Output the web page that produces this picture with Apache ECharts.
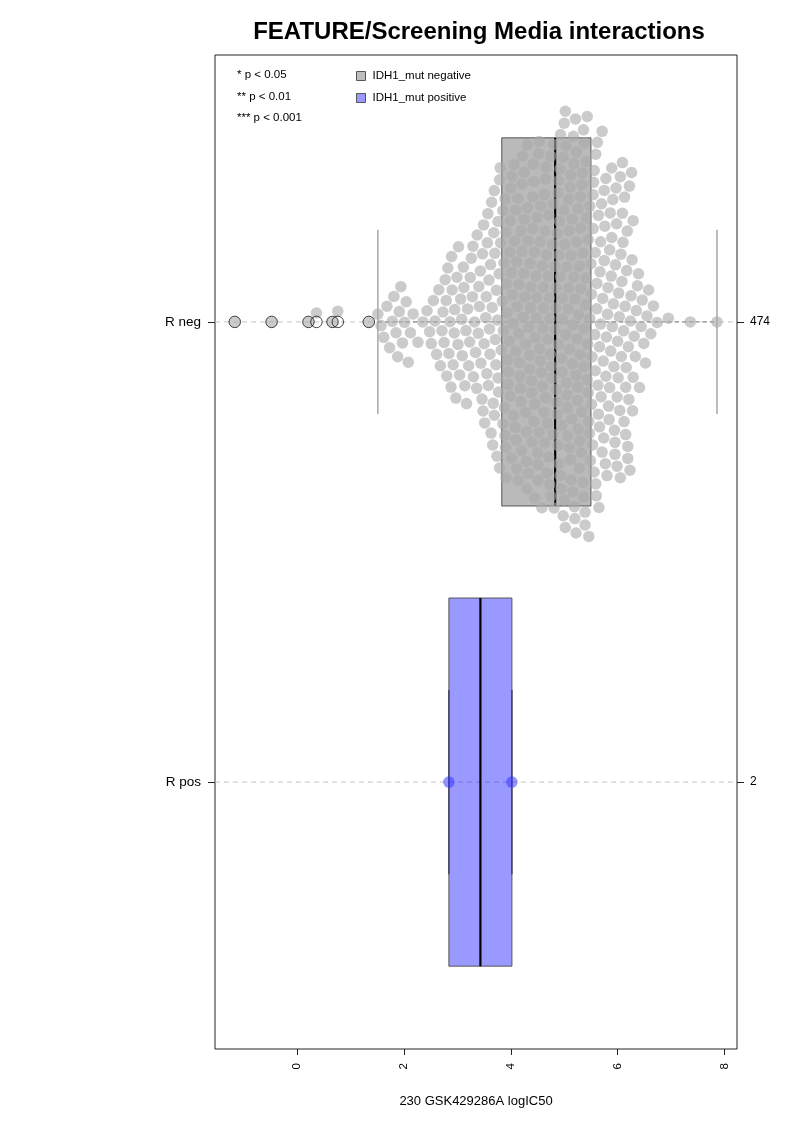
<!DOCTYPE html>
<html>
<head>
<meta charset="utf-8">
<script src="https://cdn.jsdelivr.net/npm/echarts@6/dist/echarts.min.js"></script>
<style>html,body{margin:0;padding:0;background:#fff}#c{width:793px;height:1122px}</style>
</head>
<body>
<div id="c"></div>
<script>
const groupNames = ['R neg', 'R pos'];
const legendNames = ['IDH1_mut negative', 'IDH1_mut positive'];
const pLegend = ['* p < 0.05', '** p < 0.01', '*** p < 0.001'];
const xTicks = [0, 2, 4, 6, 8];
// boxplot stats: [min whisker, Q1, median, Q3, max whisker]
const negStats = [1.51, 3.83, 4.83, 5.50, 7.86];
const posStats = [2.84, 2.84, 3.43, 4.02, 4.02];
const posValues = [2.84, 4.02];
const negValues = [
 -1.17, -0.48, 0.21, 0.36, 0.66, 0.76, 1.34,
 1.51, 1.57, 1.62, 1.68, 1.73, 1.78, 1.81, 1.85, 1.88, 1.91, 1.94, 1.97, 2.01, 2.04, 2.08, 2.12, 2.17,
 2.26, 2.35, 2.43, 2.48, 2.51, 2.55, 2.58, 2.61, 2.65, 2.68,
 2.71, 2.73, 2.75, 2.77, 2.79, 2.80, 2.82, 2.84, 2.86, 2.88, 2.89,
 2.90, 2.92, 2.94, 2.95, 2.97, 2.99, 3.01, 3.02, 3.04, 3.06, 3.08, 3.09,
 3.11, 3.12, 3.14, 3.16, 3.17, 3.19, 3.21, 3.23, 3.24, 3.26, 3.28, 3.29,
 3.30, 3.32, 3.34, 3.36, 3.37, 3.39, 3.40, 3.41, 3.43, 3.44, 3.46, 3.47, 3.48, 3.49,
 3.50, 3.51, 3.53, 3.54, 3.55, 3.56, 3.57, 3.58, 3.59,
 3.60, 3.61, 3.62, 3.63, 3.64, 3.65, 3.66, 3.67, 3.68, 3.69, 3.69,
 3.70, 3.71, 3.72, 3.73, 3.74, 3.75, 3.76, 3.76, 3.77, 3.78, 3.79, 3.79,
 3.80, 3.81, 3.82,
 3.84, 3.85, 3.85, 3.86, 3.87, 3.88, 3.89, 3.89,
 3.90, 3.91, 3.91, 3.92, 3.93, 3.94, 3.95, 3.96, 3.97, 3.98, 3.99, 3.99,
 4.00, 4.01, 4.01, 4.02, 4.03, 4.04, 4.05, 4.06, 4.07, 4.08, 4.09, 4.09,
 4.10, 4.11, 4.11, 4.12, 4.13, 4.14, 4.15, 4.15, 4.16, 4.17, 4.18, 4.19, 4.19,
 4.20, 4.21, 4.21, 4.22, 4.23, 4.24, 4.25, 4.25, 4.26, 4.27, 4.28, 4.29, 4.29,
 4.30, 4.31, 4.31, 4.32, 4.33, 4.34, 4.35, 4.35, 4.36, 4.37, 4.38, 4.39, 4.39,
 4.40, 4.41, 4.41, 4.42, 4.43, 4.43, 4.44, 4.45, 4.45, 4.46, 4.47, 4.48, 4.49, 4.49,
 4.50, 4.51, 4.51, 4.52, 4.53, 4.53, 4.54, 4.55, 4.55, 4.56, 4.57, 4.58, 4.59, 4.59,
 4.60, 4.61, 4.61, 4.62, 4.63, 4.63, 4.64, 4.65, 4.65, 4.66, 4.67, 4.68, 4.69, 4.69,
 4.70, 4.71, 4.71, 4.72, 4.73, 4.73, 4.74, 4.75, 4.75, 4.76, 4.77, 4.78, 4.79, 4.79,
 4.80, 4.81, 4.82, 4.83,
 4.84, 4.85, 4.85, 4.86, 4.87, 4.87, 4.88, 4.88, 4.89, 4.89,
 4.90, 4.90, 4.91, 4.92, 4.92, 4.93, 4.93, 4.94, 4.95, 4.95, 4.96, 4.96, 4.97, 4.98, 4.98, 4.99,
 5.00, 5.00, 5.01, 5.02, 5.02, 5.03, 5.03, 5.04, 5.05, 5.05, 5.06, 5.06, 5.07, 5.08, 5.08, 5.09,
 5.10, 5.10, 5.11, 5.12, 5.12, 5.13, 5.13, 5.14, 5.15, 5.15, 5.16, 5.16, 5.17, 5.18, 5.18, 5.19,
 5.20, 5.20, 5.21, 5.22, 5.22, 5.23, 5.23, 5.24, 5.25, 5.25, 5.26, 5.26, 5.27, 5.28, 5.28, 5.29,
 5.30, 5.30, 5.31, 5.31, 5.32, 5.33, 5.33, 5.34, 5.35, 5.35, 5.36, 5.36, 5.37, 5.37, 5.38, 5.39, 5.39,
 5.40, 5.41, 5.41, 5.42, 5.43, 5.43, 5.44, 5.45, 5.45, 5.46, 5.46, 5.47, 5.48, 5.48, 5.49,
 5.50,
 5.51, 5.51, 5.52, 5.53, 5.54, 5.54, 5.55, 5.56, 5.56, 5.57, 5.58, 5.58, 5.59, 5.59,
 5.60, 5.61, 5.61, 5.62, 5.63, 5.64, 5.64, 5.65, 5.66, 5.66, 5.67, 5.68, 5.68, 5.69,
 5.70, 5.71, 5.71, 5.72, 5.73, 5.74, 5.75, 5.75, 5.76, 5.77, 5.78, 5.78, 5.79,
 5.80, 5.81, 5.82, 5.83, 5.84, 5.85, 5.85, 5.86, 5.87, 5.88, 5.89, 5.89,
 5.90, 5.91, 5.92, 5.93, 5.94, 5.95, 5.95, 5.96, 5.97, 5.98, 5.99, 5.99,
 6.00, 6.01, 6.02, 6.03, 6.04, 6.05, 6.05, 6.06, 6.07, 6.08, 6.09, 6.09,
 6.10, 6.11, 6.12, 6.13, 6.14, 6.15, 6.15, 6.16, 6.17, 6.18, 6.19, 6.19,
 6.20, 6.21, 6.22, 6.23, 6.24, 6.25, 6.26, 6.27, 6.28, 6.29, 6.29,
 6.31, 6.33, 6.35, 6.37, 6.39, 6.41, 6.44, 6.46, 6.49, 6.52, 6.55, 6.58, 6.62, 6.67, 6.74,
 6.95, 7.36, 7.86
];

// ---- layout constants ----
const GRID = {left: 215, top: 55, width: 522, height: 994};
const XMIN = -1.54, XMAX = 8.235, YMIN = 0.42, YMAX = 2.58;
const pxX = GRID.width / (XMAX - XMIN);
const pxY = GRID.height / (YMAX - YMIN);
const DOT = 11.5, SPACING = 12;
const FONT = '"Liberation Sans", Arial, Helvetica, sans-serif';

// beeswarm "swarm" layout (ascending priority), offsets in pixels
function swarm(vals) {
  const idx = vals.map((v, i) => i).sort((a, b) => vals[a] - vals[b]);
  const placed = [];
  const out = new Array(vals.length);
  const d2 = SPACING * SPACING;
  for (const i of idx) {
    const x = vals[i] * pxX;
    const near = placed.filter(p => Math.abs(p.x - x) < SPACING);
    const cands = [0];
    for (const p of near) {
      const dy = Math.sqrt(d2 - (p.x - x) * (p.x - x));
      cands.push(p.y + dy, p.y - dy);
    }
    cands.sort((a, b) => Math.abs(a) - Math.abs(b));
    let y = 0;
    for (const c of cands) {
      if (near.every(p => (p.x - x) * (p.x - x) + (p.y - c) * (p.y - c) >= d2 - 1e-6)) { y = c; break; }
    }
    placed.push({x, y});
    out[i] = y;
  }
  return out;
}
const negOff = swarm(negValues);
const posOff = swarm(posValues);
const negPts = negValues.map((v, i) => [v, 1 - negOff[i] / pxY]);
const posPts = posValues.map((v, i) => [v, 2 - posOff[i] / pxY]);
const negOut = negValues.filter(v => v < negStats[0] || v > negStats[4]).map(v => [v, 1]);

const boxStyles = [
  {fill: 'rgba(140,140,140,0.6)', stroke: '#555', whisker: '#7a7a7a', staple: '#9a9a9a'},
  {fill: 'rgba(0,0,255,0.4)', stroke: '#555', whisker: '#555', staple: '#3a3a5a'}
];

function renderBox(params, api) {
  const g = api.value(0);
  const s = [api.value(1), api.value(2), api.value(3), api.value(4), api.value(5)];
  const st = boxStyles[g - 1];
  const cs = params.coordSys;
  const pt = (v, dy) => api.coord([v, g + dy]);
  const yc = pt(s[0], 0)[1];
  const yTop = Math.min(pt(s[1], -0.4)[1], pt(s[1], 0.4)[1]);
  const yBot = Math.max(pt(s[1], -0.4)[1], pt(s[1], 0.4)[1]);
  const sTop = Math.min(pt(s[0], -0.2)[1], pt(s[0], 0.2)[1]);
  const sBot = Math.max(pt(s[0], -0.2)[1], pt(s[0], 0.2)[1]);
  const x = s.map(v => pt(v, 0)[0]);
  const ch = [];
  ch.push({type: 'line', shape: {x1: cs.x, y1: yc, x2: cs.x + cs.width, y2: yc}, style: {stroke: '#c4c4c4', lineWidth: 1, lineDash: [5, 4]}});
  ch.push({type: 'line', shape: {x1: x[0], y1: yc, x2: x[1], y2: yc}, style: {stroke: st.whisker, lineWidth: 1, lineDash: [4, 3]}});
  ch.push({type: 'line', shape: {x1: x[3], y1: yc, x2: x[4], y2: yc}, style: {stroke: st.whisker, lineWidth: 1, lineDash: [4, 3]}});
  ch.push({type: 'rect', shape: {x: x[1], y: yTop, width: x[3] - x[1], height: yBot - yTop}, style: {fill: st.fill, stroke: st.stroke, lineWidth: 1}});
  ch.push({type: 'line', shape: {x1: x[0], y1: sTop, x2: x[0], y2: sBot}, style: {stroke: st.staple, lineWidth: 1.3}});
  ch.push({type: 'line', shape: {x1: x[4], y1: sTop, x2: x[4], y2: sBot}, style: {stroke: st.staple, lineWidth: 1.3}});
  ch.push({type: 'line', shape: {x1: x[2], y1: yTop, x2: x[2], y2: yBot}, style: {stroke: '#000', lineWidth: 2.2}});
  return {type: 'group', children: ch};
}

const counts = [negValues.length, posValues.length];

const chart = echarts.init(document.getElementById('c'), null, {renderer: 'canvas'});
chart.setOption({
  animation: false,
  backgroundColor: '#fff',
  textStyle: {fontFamily: FONT},
  title: {
    text: 'FEATURE/Screening Media interactions',
    left: 474, top: 15, textAlign: 'center',
    textStyle: {fontSize: 24, fontWeight: 'bold', color: '#000', fontFamily: FONT}
  },
  legend: {
    orient: 'vertical', left: 351, top: 65, itemWidth: 9, itemHeight: 9, itemGap: 10,
    icon: 'rect', selectedMode: false,
    textStyle: {fontSize: 11.5, color: '#000', fontFamily: FONT, padding: [0, 0, 0, 2]},
    data: [
      {name: legendNames[0], itemStyle: {color: '#bebebe', borderColor: '#555', borderWidth: 1}},
      {name: legendNames[1], itemStyle: {color: '#9999ff', borderColor: '#555', borderWidth: 1}}
    ]
  },
  graphic: pLegend.map((t, i) => ({
    type: 'text', x: 237, y: [75, 97, 118][i],
    style: {text: t, font: '11.5px ' + FONT, fill: '#000', verticalAlign: 'middle'}
  })),
  grid: {left: GRID.left, top: GRID.top, width: GRID.width, height: GRID.height, show: true, borderColor: '#222', borderWidth: 1, backgroundColor: 'transparent'},
  xAxis: {
    type: 'value', min: XMIN, max: XMAX,
    axisLine: {show: false, onZero: false}, splitLine: {show: false},
    axisTick: {show: true, length: 6, lineStyle: {color: '#222'}, customValues: xTicks},
    axisLabel: {customValues: xTicks, rotate: 90, fontSize: 11.5, color: '#000', margin: 14, fontFamily: FONT},
    name: '230 GSK429286A logIC50', nameLocation: 'middle', nameGap: 46,
    nameTextStyle: {fontSize: 13, color: '#000', fontFamily: FONT}
  },
  yAxis: [
    {
      type: 'value', min: YMIN, max: YMAX, inverse: true,
      axisLine: {show: false, onZero: false}, splitLine: {show: false},
      axisTick: {show: true, length: 7, lineStyle: {color: '#222'}, customValues: [1, 2]},
      axisLabel: {customValues: [1, 2], formatter: v => groupNames[Math.round(v) - 1], fontSize: 13.5, color: '#000', margin: 14, fontFamily: FONT}
    },
    {
      type: 'value', min: YMIN, max: YMAX, inverse: true, position: 'right',
      axisLine: {show: false, onZero: false}, splitLine: {show: false},
      axisTick: {show: true, length: 7, lineStyle: {color: '#222'}, customValues: [1, 2]},
      axisLabel: {customValues: [1, 2], formatter: v => String(counts[Math.round(v) - 1]), fontSize: 12, color: '#000', margin: 13, fontFamily: FONT}
    }
  ],
  series: [
    {type: 'custom', name: legendNames[0], z: 2, renderItem: renderBox, data: [[1].concat(negStats)], encode: {x: [1, 2, 3, 4, 5], y: 0}, itemStyle: {color: '#bebebe'}, silent: true},
    {type: 'custom', name: legendNames[1], z: 2, renderItem: renderBox, data: [[2].concat(posStats)], encode: {x: [1, 2, 3, 4, 5], y: 0}, itemStyle: {color: '#9999ff'}, silent: true},
    {type: 'scatter', name: 'negpts', z: 3, symbol: 'circle', symbolSize: DOT, data: negPts, itemStyle: {color: 'rgba(170,170,170,0.77)', borderWidth: 0}, silent: true},
    {type: 'scatter', name: 'pospts', z: 3, symbol: 'circle', symbolSize: DOT, data: posPts, itemStyle: {color: 'rgba(50,50,255,0.65)', borderWidth: 0}, silent: true},
    {type: 'scatter', name: 'outliers', z: 4, symbol: 'circle', symbolSize: DOT, data: negOut, itemStyle: {color: 'rgba(0,0,0,0)', borderColor: '#000', borderWidth: 0.9}, silent: true}
  ]
});
</script>
</body>
</html>
